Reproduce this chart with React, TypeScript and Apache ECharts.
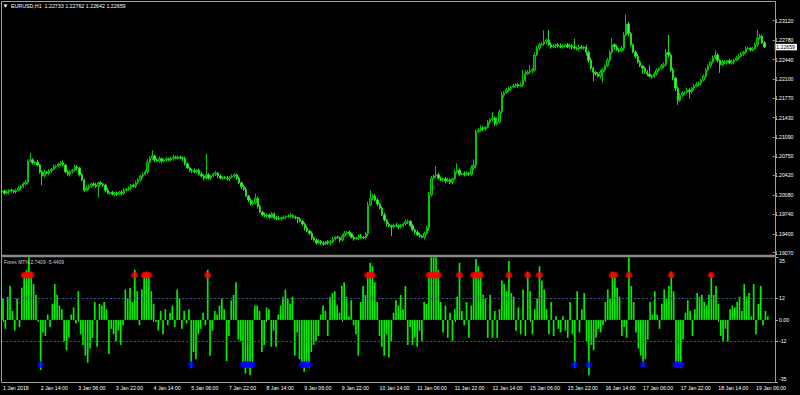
import React, { useEffect, useRef } from 'react';
import * as echarts from 'echarts';

// ---- DATA (EURUSD H1) ----
const closes = [
  1.2015, 1.2011, 1.2013, 1.2016, 1.2015, 1.2013, 1.2016, 1.2020, 1.2023, 1.2027,
  1.2030, 1.2067, 1.2069, 1.2064, 1.2065, 1.2060, 1.2048, 1.2041, 1.2048, 1.2046,
  1.2050, 1.2053, 1.2057, 1.2058, 1.2062, 1.2064, 1.2060, 1.2048, 1.2044, 1.2048,
  1.2051, 1.2057, 1.2055, 1.2043, 1.2034, 1.2016, 1.2020, 1.2023, 1.2027, 1.2025,
  1.2023, 1.2029, 1.2027, 1.2025, 1.2016, 1.2011, 1.2012, 1.2009, 1.2011, 1.2009,
  1.2013, 1.2011, 1.2016, 1.2018, 1.2020, 1.2025, 1.2023, 1.2029, 1.2034, 1.2041,
  1.2044, 1.2048, 1.2065, 1.2072, 1.2076, 1.2069, 1.2067, 1.2071, 1.2067, 1.2069,
  1.2071, 1.2069, 1.2072, 1.2074, 1.2072, 1.2074, 1.2072, 1.2071, 1.2062, 1.2055,
  1.2051, 1.2050, 1.2048, 1.2051, 1.2044, 1.2041, 1.2037, 1.2043, 1.2037, 1.2041,
  1.2044, 1.2046, 1.2041, 1.2037, 1.2038, 1.2037, 1.2036, 1.2039, 1.2041, 1.2043,
  1.2037, 1.2029, 1.2022, 1.2018, 1.2006, 1.1999, 1.1992, 1.1994, 1.2002, 1.1988,
  1.1978, 1.1973, 1.1971, 1.1973, 1.1969, 1.1975, 1.1968, 1.1967, 1.1966, 1.1968,
  1.1969, 1.1970, 1.1971, 1.1972, 1.1969, 1.1968, 1.1966, 1.1962, 1.1957, 1.1950,
  1.1945, 1.1941, 1.1933, 1.1929, 1.1924, 1.1927, 1.1924, 1.1922, 1.1926, 1.1924,
  1.1926, 1.1931, 1.1934, 1.1933, 1.1929, 1.1936, 1.1941, 1.1943, 1.1940, 1.1934,
  1.1931, 1.1933, 1.1936, 1.1934, 1.1933, 1.1940, 1.1990, 1.2002, 1.2006, 1.1999,
  1.1992, 1.1985, 1.1973, 1.1964, 1.1957, 1.1954, 1.1952, 1.1955, 1.1954, 1.1952,
  1.1954, 1.1957, 1.1961, 1.1962, 1.1954, 1.1947, 1.1943, 1.1938, 1.1936, 1.1934,
  1.1941, 1.1950, 1.2008, 1.2037, 1.2041, 1.2043, 1.2037, 1.2034, 1.2036, 1.2032,
  1.2034, 1.2030, 1.2036, 1.2048, 1.2051, 1.2044, 1.2045, 1.2043, 1.2046, 1.2044,
  1.2055, 1.2060, 1.2118, 1.2121, 1.2125, 1.2123, 1.2126, 1.2135, 1.2139, 1.2142,
  1.2132, 1.2135, 1.2153, 1.2182, 1.2186, 1.2191, 1.2194, 1.2196, 1.2198, 1.2200,
  1.2198, 1.2200, 1.2208, 1.2219, 1.2222, 1.2224, 1.2226, 1.2252, 1.2264, 1.2270,
  1.2271, 1.2275, 1.2278, 1.2270, 1.2266, 1.2268, 1.2270, 1.2268, 1.2266, 1.2268,
  1.2270, 1.2266, 1.2268, 1.2266, 1.2264, 1.2263, 1.2266, 1.2264, 1.2266, 1.2257,
  1.2243, 1.2229, 1.2222, 1.2219, 1.2215, 1.2222, 1.2226, 1.2233, 1.2243, 1.2257,
  1.2270, 1.2266, 1.2261, 1.2259, 1.2264, 1.2287, 1.2306, 1.2289, 1.2270, 1.2257,
  1.2250, 1.2240, 1.2233, 1.2229, 1.2222, 1.2219, 1.2215, 1.2214, 1.2219, 1.2226,
  1.2229, 1.2233, 1.2235, 1.2257, 1.2252, 1.2226, 1.2212, 1.2194, 1.2173, 1.2182,
  1.2186, 1.2187, 1.2191, 1.2188, 1.2194, 1.2198, 1.2201, 1.2203, 1.2208, 1.2215,
  1.2226, 1.2233, 1.2240, 1.2247, 1.2252, 1.2243, 1.2235, 1.2240, 1.2239, 1.2242,
  1.2238, 1.2240, 1.2243, 1.2247, 1.2250, 1.2254, 1.2257, 1.2263, 1.2264, 1.2261,
  1.2263, 1.2270, 1.2282, 1.2285, 1.22733, 1.22659,
];
const firstOpen = 1.2013;

// wick lengths above / below the body, in pips
const upperWickPips = [
  3, 2, 4, 2, 3, 2, 3, 4, 2, 3,
  4, 3, 12, 3, 2, 4, 2, 3, 4, 2,
  3, 2, 4, 3, 2, 3, 4, 2, 3, 3,
  2, 4, 3, 2, 3, 2, 4, 3, 2, 3,
  4, 2, 3, 2, 3, 4, 2, 3, 2, 3,
  2, 3, 4, 2, 3, 2, 3, 4, 3, 2,
  3, 4, 5, 3, 10, 2, 3, 4, 2, 3,
  3, 2, 3, 4, 2, 3, 2, 3, 4, 3,
  2, 3, 4, 2, 3, 4, 3, 37, 3, 2,
  3, 4, 2, 3, 2, 3, 4, 2, 3, 3,
  2, 3, 2, 4, 3, 2, 3, 4, 8, 3,
  3, 2, 4, 3, 2, 3, 2, 3, 4, 2,
  3, 2, 3, 4, 2, 3, 2, 3, 2, 3,
  4, 2, 3, 2, 3, 4, 2, 3, 2, 3,
  3, 4, 2, 3, 2, 3, 4, 2, 3, 2,
  3, 2, 3, 4, 2, 3, 6, 14, 3, 4,
  3, 2, 3, 4, 2, 3, 2, 3, 4, 2,
  3, 2, 4, 3, 2, 3, 2, 3, 4, 2,
  3, 4, 5, 4, 3, 15, 4, 3, 2, 3,
  4, 3, 2, 4, 12, 3, 2, 4, 3, 2,
  5, 10, 4, 3, 4, 3, 2, 4, 3, 10,
  3, 8, 4, 6, 3, 4, 3, 2, 4, 3,
  3, 4, 18, 6, 4, 10, 3, 5, 4, 3,
  4, 20, 3, 18, 4, 3, 2, 3, 4, 3,
  2, 3, 4, 3, 14, 3, 4, 3, 2, 4,
  3, 4, 3, 2, 3, 4, 3, 2, 4, 3,
  12, 3, 4, 3, 4, 5, 17, 4, 3, 2,
  3, 4, 3, 2, 3, 4, 15, 3, 4, 3,
  2, 3, 4, 6, 30, 3, 4, 2, 3, 4,
  3, 2, 4, 3, 2, 3, 4, 3, 2, 3,
  4, 3, 2, 4, 8, 3, 2, 4, 3, 2,
  3, 4, 2, 3, 4, 3, 2, 4, 3, 2,
  3, 4, 14, 4, 3, 2.9,
];
const lowerWickPips = [
  2, 3, 2, 4, 3, 2, 3, 2, 4, 3,
  3, 4, 2, 3, 4, 2, 3, 16, 3, 2,
  4, 3, 2, 3, 2, 4, 3, 2, 3, 4,
  3, 2, 4, 3, 2, 3, 2, 4, 3, 2,
  3, 20, 2, 3, 4, 2, 3, 2, 4, 3,
  2, 4, 3, 2, 3, 4, 2, 3, 2, 3,
  4, 2, 3, 2, 3, 4, 2, 3, 4, 2,
  3, 2, 3, 4, 2, 3, 2, 4, 3, 2,
  3, 4, 2, 3, 2, 3, 4, 2, 3, 4,
  2, 3, 4, 2, 3, 2, 3, 4, 2, 3,
  3, 2, 4, 3, 2, 4, 3, 2, 3, 4,
  2, 3, 2, 4, 3, 2, 3, 4, 2, 3,
  3, 4, 2, 3, 2, 3, 8, 2, 3, 4,
  2, 3, 4, 2, 3, 2, 4, 3, 2, 3,
  4, 2, 3, 2, 4, 3, 2, 3, 4, 2,
  3, 2, 4, 3, 2, 3, 4, 2, 3, 2,
  4, 3, 2, 3, 4, 2, 16, 3, 2, 4,
  3, 2, 3, 4, 2, 3, 4, 2, 3, 2,
  4, 3, 5, 3, 2, 4, 3, 2, 3, 4,
  2, 3, 4, 2, 3, 4, 2, 3, 2, 3,
  3, 4, 6, 2, 3, 4, 3, 2, 4, 3,
  4, 3, 2, 3, 4, 2, 3, 4, 2, 3,
  3, 2, 4, 3, 2, 3, 4, 3, 2, 4,
  2, 3, 4, 2, 3, 2, 4, 3, 2, 3,
  3, 2, 3, 4, 2, 3, 4, 2, 3, 6,
  4, 3, 16, 3, 2, 4, 18, 3, 2, 3,
  3, 4, 2, 3, 2, 4, 3, 4, 3, 2,
  4, 3, 2, 10, 3, 4, 2, 3, 2, 3,
  3, 2, 4, 3, 4, 3, 4, 5, 8, 3,
  3, 4, 2, 12, 3, 4, 2, 3, 4, 2,
  3, 2, 4, 3, 2, 4, 14, 3, 2, 4,
  2, 3, 4, 2, 3, 2, 4, 3, 2, 3,
  3, 2, 4, 3, 2, 1.7,
];

// Forex MTN oscillator histogram
const mtnValues = [
  12, -5, 13, 19, 5, -6, 12, -4, 18, 26,
  28, 37, 27, 20, 14, -1, -28, -7, -9, 3,
  -4, 9, 20, 14, 8, 6, -12, -17, -10, 3,
  7, -2, 16, -8, -14, -20, -24, -16, -10, 10,
  -15, 9, 8, 10, 6, -19, -5, -8, -12, -6,
  -14, -3, 17, 12, 18, 10, 28, 16, -3, 17,
  26, 27, 25, 16, 9, -1, -6, 5, -8, 6,
  -3, 4, 8, -4, 17, 12, -5, 5, -2, 6,
  -27, -18, -22, -8, -5, 4, -3, 28, -20, -6,
  5, 3, 8, 12, 6, -23, -9, 11, 14, 21,
  -11, -12, -26, -30, -27, -31, -26, 8, 8, 5,
  -18, -14, 7, 6, -15, -6, -15, 3, 8, 13,
  17, 12, 9, 13, -20, -7, -22, -26, -29, -25,
  -27, -18, -14, -12, -9, 3, 8, 5, -9, 13,
  15, 16, 8, 4, 19, 21, 13, 2, 11, -3,
  -8, -20, 10, 19, 14, 26, 32, 30, 21, 10,
  -9, -15, -20, -8, -21, -12, 4, 11, 8, 14,
  6, 19, -14, -4, -14, -10, -15, -6, -12, 10,
  9, 26, 37, 37, 36, 28, 10, -7, 8, -10,
  4, -12, 6, 13, 32, 5, -3, 10, -10, 8,
  25, 34, 30, 27, 14, 12, -10, 14, -10, 5,
  -10, 6, 22, 20, 16, 33, 15, 13, -6, 7,
  -8, 17, -9, 27, 16, -8, 6, 12, 30, 22,
  17, 6, -8, 10, -9, 2, -5, -7, 2, -6,
  -10, 10, -8, -27, 16, -7, 6, 15, -12, -31,
  -14, -17, -10, -5, -7, -3, 10, 17, 12, 27,
  26, 18, 13, -9, -4, -10, 38, 19, 10, -7,
  -16, -20, -26, -22, -11, 10, 3, 16, 3, -5,
  9, 17, 12, 19, 27, 16, -26, -25, -27, -11,
  4, 11, 5, -9, 6, 15, 13, 14, 10, 8,
  14, 26, 14, 19, 9, -9, -12, -5, -12, 6,
  8, 7, 10, 13, 5, 20, 13, 15, 2, 20,
  -8, 9, 19, -3, 5, 2,
];

const timeTickLabels = [
  '1 Jan 2018', '2 Jan 14:00', '3 Jan 06:00', '3 Jan 22:00', '4 Jan 14:00',
  '5 Jan 06:00', '7 Jan 22:00', '8 Jan 14:00', '9 Jan 06:00', '9 Jan 22:00',
  '10 Jan 14:00', '11 Jan 06:00', '11 Jan 22:00', '12 Jan 14:00', '15 Jan 06:00',
  '15 Jan 22:00', '16 Jan 14:00', '17 Jan 06:00', '17 Jan 22:00', '18 Jan 14:00',
  '19 Jan 06:00',
];
const priceTicks = [
  1.2312, 1.2278, 1.2244, 1.2210, 1.2177, 1.2143, 1.2109,
  1.2075, 1.2042, 1.2008, 1.1974, 1.1940, 1.1907,
];
const mtnTicks = [35, 12, 0, -12, -35];
const mtnLevels = [12, -12];
const signalLevel = 25;
const lastPrice = 1.22659;
const chartTitle = 'EURUSD,H1  1.22733 1.22762 1.22642 1.22659';
const indicatorTitle = 'Forex MTN 2.7409 -5.4409';
const ticksEvery = 16;
const barSlots = 329; // bars plus the chart shift space on the right

// ---- CHART ----
const FONT = '"Liberation Sans", Arial, sans-serif';
const FS = 5.2;

export default function App() {
  const ref = useRef<HTMLDivElement>(null);

  useEffect(() => {
    if (!ref.current) return;
    const chart = echarts.init(ref.current, null, { renderer: 'svg', width: 800, height: 395 });

    const slots = Array.from({ length: barSlots }, (_, i) => String(i));
    const candles = closes.map((c, i) => {
      const o = i === 0 ? firstOpen : closes[i - 1];
      const hi = Math.max(o, c) + upperWickPips[i] / 10000;
      const lo = Math.min(o, c) - lowerWickPips[i] / 10000;
      return [o, c, lo, hi];
    });
    const redDots = mtnValues.map((v) => (v >= signalLevel ? signalLevel : '-'));
    const blueDots = mtnValues.map((v) => (v <= -signalLevel ? -signalLevel : '-'));
    const priceLabelValues = [...priceTicks, lastPrice];

    const grey = '#a0a0a0';

    chart.setOption({
      animation: false,
      backgroundColor: '#000000',
      grid: [
        { left: 1, top: 2, width: 775, height: 253 },
        { left: 1, top: 257.3, width: 775, height: 125.2 },
      ],
      xAxis: [
        { type: 'category', gridIndex: 0, data: slots, boundaryGap: true, show: false },
        {
          type: 'category', gridIndex: 1, data: slots, boundaryGap: true,
          axisLine: { show: false },
          axisTick: { show: true, interval: ticksEvery - 1, alignWithLabel: true, length: 2, lineStyle: { color: grey, width: 1 } },
          axisLabel: {
            show: true, interval: ticksEvery - 1, align: 'left', margin: 2.5,
            color: '#ffffff', fontSize: FS, fontFamily: FONT,
            formatter: (_v: string, idx: number) => (idx % ticksEvery === 0 ? timeTickLabels[idx / ticksEvery] ?? '' : ''),
          },
          splitLine: { show: false },
        },
      ],
      yAxis: [
        {
          type: 'value', gridIndex: 0, position: 'right', min: 1.1903, max: 1.23446,
          axisLine: { show: false },
          splitLine: { show: false },
          axisTick: { show: true, customValues: priceTicks, length: 2, lineStyle: { color: grey } },
          axisLabel: {
            customValues: priceLabelValues, color: '#ffffff', fontSize: FS, fontFamily: FONT, margin: 2,
            formatter: (v: number) => (v === lastPrice ? `{cur|${v.toFixed(5)}}` : v.toFixed(5)),
            rich: {
              cur: {
                color: '#000000', backgroundColor: '#ffffff', padding: [1, 2, 0.5, 1.5],
                fontSize: FS, fontFamily: FONT,
              },
            },
          },
        },
        {
          type: 'value', gridIndex: 1, position: 'right', min: -35, max: 35,
          axisLine: { show: false },
          splitLine: { show: false },
          axisTick: { show: true, customValues: mtnTicks, length: 2, lineStyle: { color: grey } },
          axisLabel: {
            customValues: mtnTicks, color: '#ffffff', fontSize: FS, fontFamily: FONT, margin: 3,
            formatter: (v: number) => (v === 35 ? '{hi|35}' : v === -35 ? '{lo|-35}' : v === 0 ? '0.00' : String(v)),
            rich: {
              hi: { padding: [7, 0, 0, 0], color: '#ffffff', fontSize: FS, fontFamily: FONT },
              lo: { padding: [0, 0, 8, 0], color: '#ffffff', fontSize: FS, fontFamily: FONT },
            },
          },
        },
      ],
      series: [
        {
          type: 'candlestick', xAxisIndex: 0, yAxisIndex: 0, data: candles, barWidth: 1.9,
          itemStyle: {
            color: '#006e00', color0: '#6fe06f',
            borderColor: '#00c800', borderColor0: '#1ee01e', borderWidth: 1,
          },
        },
        {
          type: 'bar', xAxisIndex: 1, yAxisIndex: 1, data: mtnValues, barWidth: 1.7,
          itemStyle: { color: '#00f000' },
          markLine: {
            silent: true, symbol: ['none', 'none'],
            lineStyle: { color: '#3a5d80', type: [2, 2], width: 1 },
            label: { show: false },
            data: mtnLevels.map((v) => ({ yAxis: v })),
          },
        },
        {
          type: 'scatter', xAxisIndex: 1, yAxisIndex: 1, data: redDots, symbolSize: [7, 6.5],
          itemStyle: { color: '#ff0000' }, z: 5,
        },
        {
          type: 'scatter', xAxisIndex: 1, yAxisIndex: 1, data: blueDots, symbolSize: [7, 6.5],
          itemStyle: { color: '#0000ff' }, z: 5,
        },
      ],
      graphic: [
        {
          type: 'rect', z: 100, silent: true,
          shape: { x: 1.5, y: 1.5, width: 774, height: 381 },
          style: { fill: 'none', stroke: grey, lineWidth: 1 },
        },
        {
          type: 'rect', z: 100, silent: true,
          shape: { x: 1, y: 254.8, width: 775, height: 2.4 },
          style: { fill: '#8a8a8a' },
        },
        {
          type: 'polygon', z: 100, silent: true,
          shape: { points: [[3.5, 4.6], [7.5, 4.6], [5.5, 7.4]] },
          style: { fill: '#ffffff' },
        },
        {
          type: 'text', z: 100, silent: true, x: 11, y: 3.2,
          style: { text: chartTitle, fill: '#ffffff', fontSize: 5.3, fontFamily: FONT, verticalAlign: 'top' },
        },
        {
          type: 'text', z: 100, silent: true, x: 4, y: 259.3,
          style: { text: indicatorTitle, fill: '#d0d0d0', fontSize: 5, fontFamily: FONT, verticalAlign: 'top' },
        },
      ],
    });

    return () => chart.dispose();
  }, []);

  return (
    <div
      ref={ref}
      style={{ position: 'fixed', left: 0, top: 0, width: 800, height: 395, background: '#000' }}
    />
  );
}
